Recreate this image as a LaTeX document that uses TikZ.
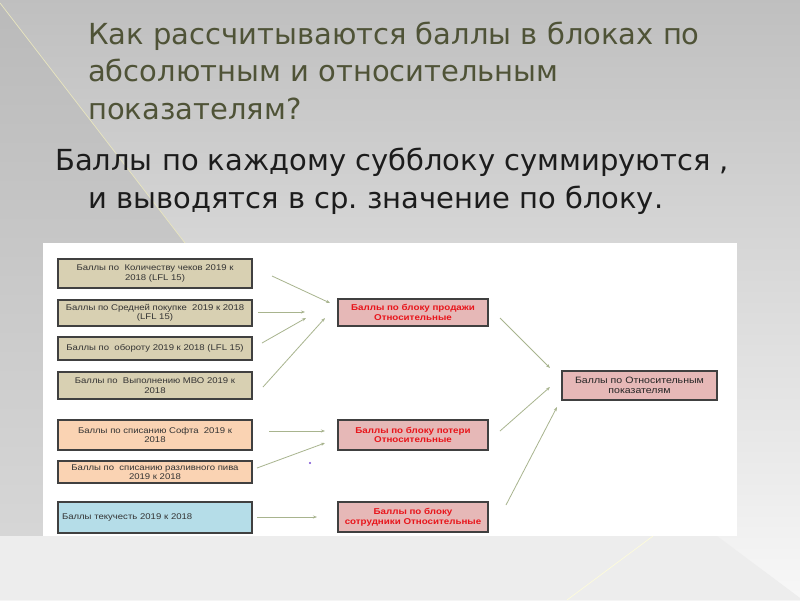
\documentclass[tikz,border=0pt]{standalone}
\usepackage{fontspec}
\setmainfont{DejaVu Sans}
\newfontfamily\diagfont[FakeStretch=1.15]{Liberation Sans}
\usetikzlibrary{arrows.meta,calc}
\frenchspacing
\definecolor{titlecol}{HTML}{4F5337}
\definecolor{subcol}{HTML}{1C1C1C}
\definecolor{tanfill}{HTML}{D8D0B2}
\definecolor{peachfill}{HTML}{FAD3B3}
\definecolor{bluefill}{HTML}{B5DDE8}
\definecolor{pinkfill}{HTML}{E6B8B7}
\definecolor{redtext}{HTML}{E8151B}
\definecolor{boxborder}{HTML}{404040}
\definecolor{arrowcol}{HTML}{A8B48E}
\tikzset{
  box/.style={draw=boxborder, line width=1.1pt, minimum width=194pt, inner sep=1pt,
    align=center, font=\diagfont\fontsize{8.3}{9.4}\selectfont, text=black!80},
  tanbox/.style={box, fill=tanfill},
  peachbox/.style={box, fill=peachfill},
  bluebox/.style={box, fill=bluefill},
  midbox/.style={box, fill=pinkfill, minimum width=150pt, text=redtext,
    font=\diagfont\bfseries\fontsize{8.5}{9.6}\selectfont},
  resbox/.style={box, fill=pinkfill, minimum width=155pt, text=black!85,
    font=\diagfont\fontsize{9.2}{10}\selectfont},
  conn/.style={draw=arrowcol, line width=0.8pt, -{Stealth[length=4pt,width=3pt]}},
  titletext/.style={anchor=base west, inner sep=0pt, text=titlecol, font=\fontsize{29}{29}\selectfont},
  subtext/.style={anchor=base west, inner sep=0pt, text=subcol, font=\fontsize{29}{29}\selectfont}
}
\begin{document}
\begin{tikzpicture}[x=1pt,y=-1pt]
\useasboundingbox (0,0) rectangle (800,600);
% background
\shade[top color=black!25!white, bottom color=black!3!white] (0,0) rectangle (800,600);
\shade[top color=black!27!white, bottom color=black!16!white] (0,3) -- (185,243) -- (185,536) -- (0,536) -- cycle;
\draw[draw=white!80!yellow!90!black, line width=0.7pt] (0,3) -- (185,243);
\fill[black!7!white] (0,536) -- (717,536) -- (800,598) -- (800,600) -- (0,600) -- cycle;
\draw[draw=white!85!yellow, line width=0.6pt] (653,536) -- (567,600);
% white panel
\fill[white] (43,243) rectangle (737,536);
% titles
\node[titletext] (t1) at (88,44) {Как рассчитываются баллы в блоках по};
\node[titletext] (t2) at (88,81) {абсолютным и относительным};
\node[titletext] (t3) at (88,119) {показателям?};
\node[subtext] (s1) at (55,170) {Баллы по каждому субблоку суммируются ,};
\node[subtext] (s2) at (88,208) {и выводятся в ср. значение по блоку.};
% left boxes
\node[tanbox, minimum height=29pt] (b1) at (155,273.5) {Баллы по\ \ Количеству чеков 2019 к\\2018 (LFL 15)};
\node[tanbox, minimum height=26pt] (b2) at (155,313) {Баллы по Средней покупке\ \ 2019 к 2018\\(LFL 15)};
\node[tanbox, minimum height=23pt] (b3) at (155,348.5) {Баллы по\ \ обороту 2019 к 2018 (LFL 15)};
\node[tanbox, minimum height=27pt] (b4) at (155,385.5) {Баллы по\ \ Выполнению МВО 2019 к\\2018};
\node[peachbox, minimum height=30pt] (b5) at (155,435) {Баллы по списанию Софта\ \ 2019 к\\2018};
\node[peachbox, minimum height=22pt] (b6) at (155,472) {Баллы по\ \ списанию разливного пива\\2019 к 2018};
\node[bluebox, minimum height=31pt, text width=186pt, align=left] (b7) at (155,517.5) {Баллы текучесть 2019 к 2018};
% middle boxes
\node[midbox, minimum height=27pt] (m1) at (413,312.5) {Баллы по блоку продажи\\Относительные};
\node[midbox, minimum height=30pt] (m2) at (413,435) {Баллы по блоку потери\\Относительные};
\node[midbox, minimum height=30pt] (m3) at (413,517) {Баллы по блоку\\сотрудники Относительные};
% result box
\node[resbox, minimum height=29pt] (r) at (639.5,385.5) {Баллы по Относительным\\показателям};
% arrow end points
\coordinate (a1s) at (272,276); \coordinate (a1e) at (330,303);
\coordinate (a2s) at (258,312); \coordinate (a2e) at (305,312);
\coordinate (a3s) at (262,343); \coordinate (a3e) at (306,318);
\coordinate (a4s) at (263,387); \coordinate (a4e) at (325,318);
\coordinate (a5s) at (269,431); \coordinate (a5e) at (325,431);
\coordinate (a6s) at (257,468); \coordinate (a6e) at (325,443);
\coordinate (a7s) at (257,517); \coordinate (a7e) at (317,517);
\coordinate (r1s) at (500,318); \coordinate (r1e) at (550,368);
\coordinate (r2s) at (500,431); \coordinate (r2e) at (550,387);
\coordinate (r3s) at (506,505); \coordinate (r3e) at (557,407);
\foreach \s/\e in {a1s/a1e,a2s/a2e,a3s/a3e,a4s/a4e,a5s/a5e,a6s/a6e,a7s/a7e,r1s/r1e,r2s/r2e,r3s/r3e}
  \draw[conn] (\s) -- (\e);
% stray dot
\fill[blue!50!violet!70!white] (310,463) circle (1.1pt);
\end{tikzpicture}
\end{document}
